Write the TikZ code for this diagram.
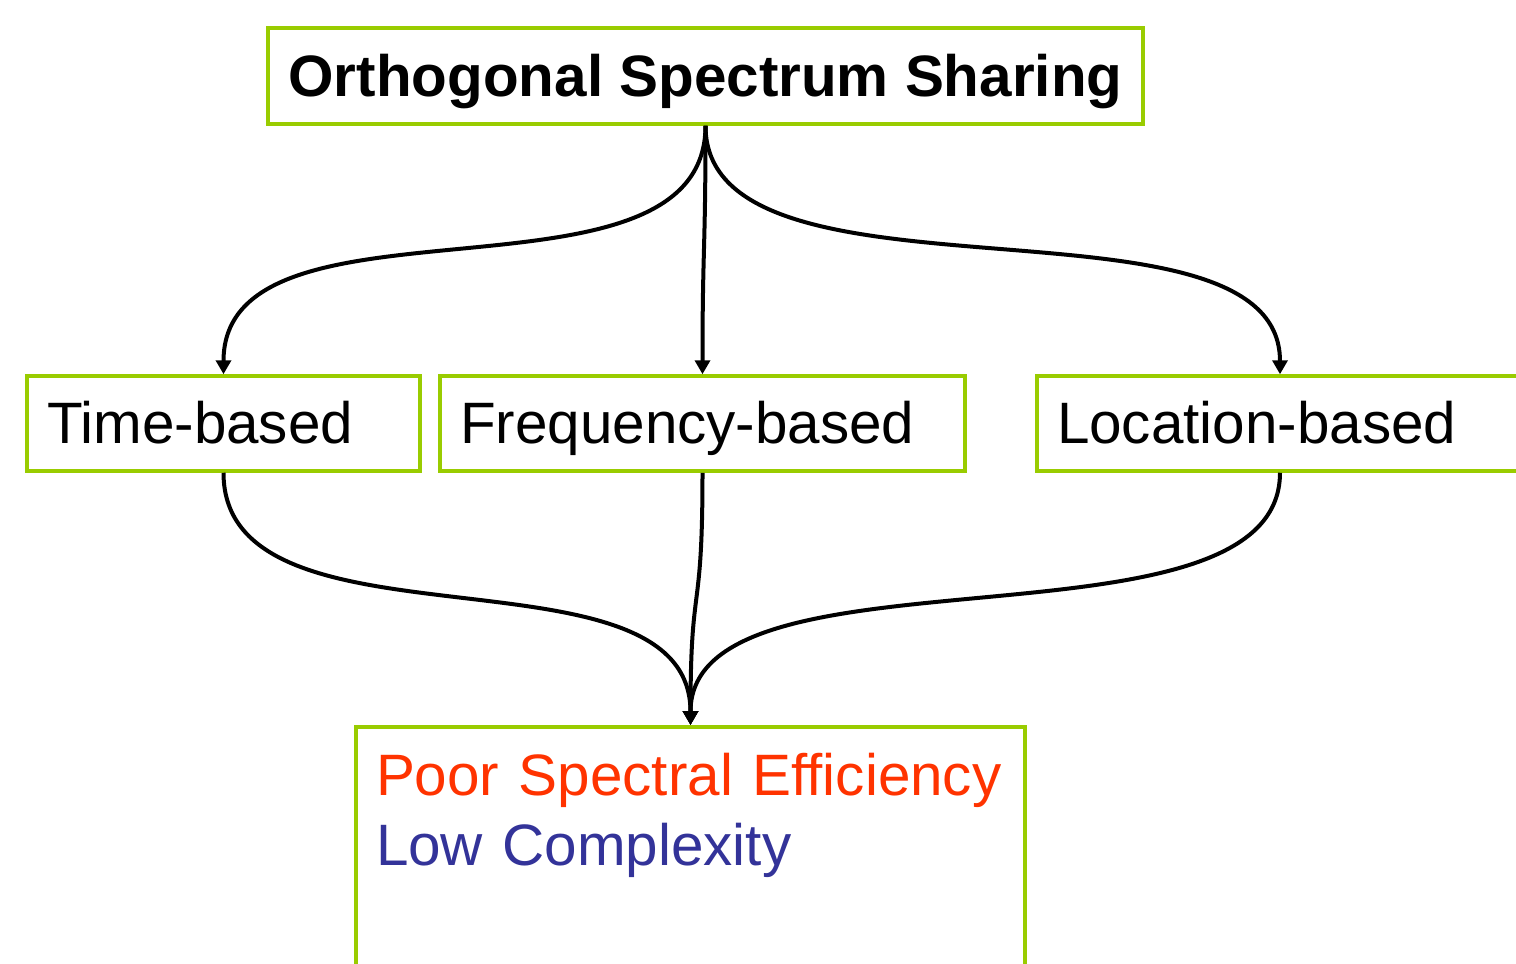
\documentclass[tikz,border=0pt]{standalone}
\usepackage{fontspec}
\setmainfont{Liberation Sans}
\usetikzlibrary{arrows.meta}
\definecolor{boxgreen}{HTML}{99CC00}
\definecolor{effred}{HTML}{FF3300}
\definecolor{cplxblue}{HTML}{333399}

\begin{document}
\begin{tikzpicture}[x=0.5pt,y=-0.5pt,
  box/.style={draw=boxgreen, line width=1.75pt, inner xsep=10pt, inner ysep=0pt,
    font=\fontsize{29.2}{35}\selectfont, align=left},
  oneline/.style={text height=22pt, text depth=2pt},
  link/.style={draw=black, line width=2pt, -{Triangle[length=7pt,width=7.5pt]}}]
\useasboundingbox (0,0) rectangle (1516,964);
\fill[white] (0,0) rectangle (1516,964);

% root
\node[box, oneline, font=\fontsize{29.2}{35}\selectfont\bfseries, align=center,
      minimum width=437.5pt, minimum height=48pt] (root) at (705.5,76)
  {Orthogonal Spectrum Sharing};

% three families
\node[box, oneline, text width=176.5pt, minimum height=47.5pt] (time) at (223.5,423.5) {Time-based};
\node[box, oneline, text width=242.5pt, minimum height=47.5pt] (freq) at (702.5,423.5) {Frequency-based};
\node[box, oneline, text width=223pt, minimum height=47.5pt] (loc) at (1280,423.5) {Location-based};

% outcome
\node[box, anchor=north, text width=314.5pt, inner ysep=13pt, text depth=150pt] (eff) at (690.5,725)
  {\textcolor{effred}{Poor Spectral Efficiency}\\\textcolor{cplxblue}{Low Complexity}};

% connectors
\draw[link] (root.south) .. controls +(0,195) and +(0,-195) .. (time.north);
\draw[link] (root.south) .. controls +(0,126) and +(0,-126) .. (freq.north);
\draw[link] (root.south) .. controls +(0,195) and +(0,-195) .. (loc.north);

\draw[link] (time.south) .. controls +(0,190) and +(0,-190) .. (eff.north);
\draw[link] (freq.south) .. controls +(0,150) and +(0,-150) .. (eff.north);
\draw[link] (loc.south) .. controls +(0,190) and +(0,-190) .. (eff.north);
\end{tikzpicture}
\end{document}
